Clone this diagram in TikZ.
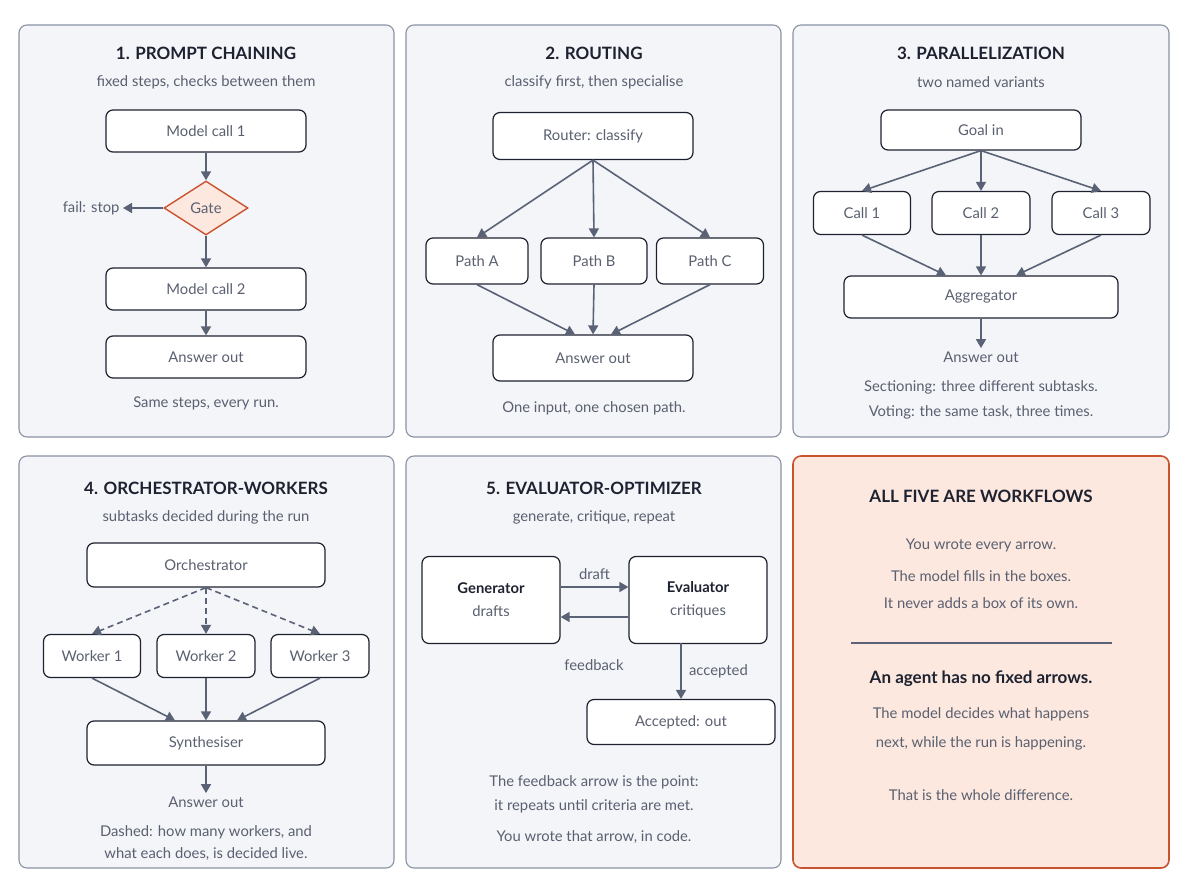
\documentclass[tikz,border=0pt]{standalone}
\usepackage{fontspec}
\setmainfont{Lato}
\usetikzlibrary{shapes.geometric,arrows.meta}
\definecolor{pfill}{HTML}{F3F5F9}
\definecolor{pline}{HTML}{8A93A3}
\definecolor{txt}{HTML}{5A6070}
\definecolor{ttl}{HTML}{1E2230}
\definecolor{arr}{HTML}{5A6275}
\definecolor{ofill}{HTML}{FCE8DF}
\definecolor{oline}{HTML}{C9532F}
\begin{document}
\begin{tikzpicture}[x=1pt,y=-1pt,
 panel/.style={draw=pline,fill=pfill,rounded corners=8,line width=1.1},
 box/.style={draw=ttl,fill=white,rounded corners=7,line width=1.2,text=txt,font=\fontsize{14.8}{17}\selectfont},
 tt/.style={text=ttl,font=\fontsize{17}{19}\selectfont\bfseries},
 sub/.style={text=txt,font=\fontsize{14.8}{17}\selectfont},
 ar/.style={draw=arr,line width=1.6,-{Triangle[length=9,width=10]}}]
\useasboundingbox (0,0) rectangle (1200,894);
\fill[white] (0,0) rectangle (1200,894);
% panels
\draw[panel] (19,25) rectangle (394,437);
\draw[panel] (406,25) rectangle (781,437);
\draw[panel] (793,25) rectangle (1169,437);
\draw[panel] (19,456) rectangle (394,868);
\draw[panel] (406,456) rectangle (781,868);
\draw[draw=oline,fill=ofill,rounded corners=8,line width=1.6] (793,456) rectangle (1169,868);
% P1
\node[tt] (t1) at (206,53) {1. PROMPT CHAINING};
\node[sub] (s1) at (206,82) {fixed steps, checks between them};
\node[box,minimum width=200,minimum height=42] (m1) at (206,131) {Model call 1};
\node[diamond,draw=oline,fill=ofill,line width=1.4,minimum width=84,minimum height=54,inner sep=0,text=txt,font=\fontsize{14.8}{17}\selectfont] (g) at (206,208) {Gate};
\node[sub,anchor=east] (fs) at (123,208) {fail: stop};
\node[box,minimum width=200,minimum height=42] (m2) at (206,289) {Model call 2};
\node[box,minimum width=200,minimum height=42] (a1) at (206,357) {Answer out};
\node[sub] (f1) at (206,403) {Same steps, every run.};
\draw[ar] (m1) -- (g);
\draw[ar] (g) -- (fs);
\draw[ar] (g) -- (m2);
\draw[ar] (m2) -- (a1);
% P2
\node[tt] (t2) at (594,53) {2. ROUTING};
\node[sub] (s2) at (594,82) {classify first, then specialise};
\node[box,minimum width=200,minimum height=47] (r) at (593,136) {Router: classify};
\node[box,minimum width=102,minimum height=46] (pa) at (477,261) {Path A};
\node[box,minimum width=106,minimum height=46] (pb) at (594,261) {Path B};
\node[box,minimum width=107,minimum height=46] (pc) at (710,261) {Path C};
\node[box,minimum width=200,minimum height=46] (a2) at (593,358) {Answer out};
\node[sub] (f2) at (594,408) {One input, one chosen path.};
\draw[ar] (r.south) -- (pa.north);
\draw[ar] (r.south) -- (pb.north);
\draw[ar] (r.south) -- (pc.north);
\draw[ar] (pa.south) -- ([xshift=-18]a2.north);
\draw[ar] (pb.south) -- (a2.north);
\draw[ar] (pc.south) -- ([xshift=18]a2.north);
% P3
\node[tt] (t3) at (981,53) {3. PARALLELIZATION};
\node[sub] (s3) at (981,82) {two named variants};
\node[box,minimum width=200,minimum height=40] (gi) at (981,130) {Goal in};
\node[box,minimum width=97,minimum height=43] (c1) at (862,213) {Call 1};
\node[box,minimum width=98,minimum height=43] (c2) at (981,213) {Call 2};
\node[box,minimum width=98,minimum height=43] (c3) at (1101,213) {Call 3};
\node[box,minimum width=274,minimum height=42] (ag) at (981,297) {Aggregator};
\node[sub] (ao3) at (981,357) {Answer out};
\node[sub] (l31) at (981,387) {Sectioning: three different subtasks.};
\node[sub] (l32) at (981,412) {Voting: the same task, three times.};
\draw[ar] (gi.south) -- (c1.north);
\draw[ar] (gi.south) -- (c2.north);
\draw[ar] (gi.south) -- (c3.north);
\draw[ar] (c1.south) -- ([xshift=-35]ag.north);
\draw[ar] (c2.south) -- (ag.north);
\draw[ar] (c3.south) -- ([xshift=35]ag.north);
\draw[ar] (ag.south) -- (ao3.north);
% P4
\node[tt] (t4) at (206,488) {4. ORCHESTRATOR-WORKERS};
\node[sub] (s4) at (206,517) {subtasks decided during the run};
\node[box,minimum width=238,minimum height=44] (or) at (206,565) {Orchestrator};
\node[box,minimum width=97,minimum height=43] (w1) at (92,656) {Worker 1};
\node[box,minimum width=98,minimum height=43] (w2) at (206,656) {Worker 2};
\node[box,minimum width=98,minimum height=43] (w3) at (320,656) {Worker 3};
\node[box,minimum width=238,minimum height=44] (sy) at (206,743) {Synthesiser};
\node[sub] (ao4) at (206,802) {Answer out};
\node[sub] (l41) at (206,832) {Dashed: how many workers, and};
\node[sub] (l42) at (206,854) {what each does, is decided live.};
\draw[ar,dashed,dash pattern=on 6 off 4] (or.south) -- (w1.north);
\draw[ar,dashed,dash pattern=on 6 off 4] (or.south) -- (w2.north);
\draw[ar,dashed,dash pattern=on 6 off 4] (or.south) -- (w3.north);
\draw[ar] (w1.south) -- ([xshift=-31]sy.north);
\draw[ar] (w2.south) -- (sy.north);
\draw[ar] (w3.south) -- ([xshift=31]sy.north);
\draw[ar] (sy.south) -- (ao4.north);
% P5
\node[tt] (t5) at (594,488) {5. EVALUATOR-OPTIMIZER};
\node[sub] (s5) at (594,517) {generate, critique, repeat};
\node[box,minimum width=138,minimum height=87,align=center] (ge) at (491,600) {{\bfseries\color{ttl}Generator}\\[6pt]drafts};
\node[box,minimum width=138,minimum height=87,align=center] (ev) at (698,600) {{\bfseries\color{ttl}Evaluator}\\[6pt]critiques};
\node[box,minimum width=188,minimum height=45] (acc) at (681,722) {Accepted: out};
\node[sub] (l51) at (594,782) {The feedback arrow is the point:};
\node[sub] (l52) at (594,806) {it repeats until criteria are met.};
\node[sub] (l53) at (594,837) {You wrote that arrow, in code.};
\draw[ar] ([yshift=13]ge.east) -- node[sub,above=3] {draft} ([yshift=13]ev.west);
\draw[ar] ([yshift=-17]ev.west) -- ([yshift=-17]ge.east);
\node[sub] (fb) at (594,665) {feedback};
\draw[ar] (681,643) -- node[sub,right=4] {accepted} (acc.north);
% P6
\node[tt] (t6) at (981,496) {ALL FIVE ARE WORKFLOWS};
\node[sub] (l61) at (981,545) {You wrote every arrow.};
\node[sub] (l62) at (981,576) {The model fills in the boxes.};
\node[sub] (l63) at (981,603) {It never adds a box of its own.};
\draw[draw=arr,line width=1.4] (851,643) -- (1112,643);
\node[tt] (l64) at (981,679) {An agent has no fixed arrows.};
\node[sub] (l65) at (981,714) {The model decides what happens};
\node[sub] (l66) at (981,743) {next, while the run is happening.};
\node[sub] (l67) at (981,795) {That is the whole difference.};
\end{tikzpicture}
\end{document}
